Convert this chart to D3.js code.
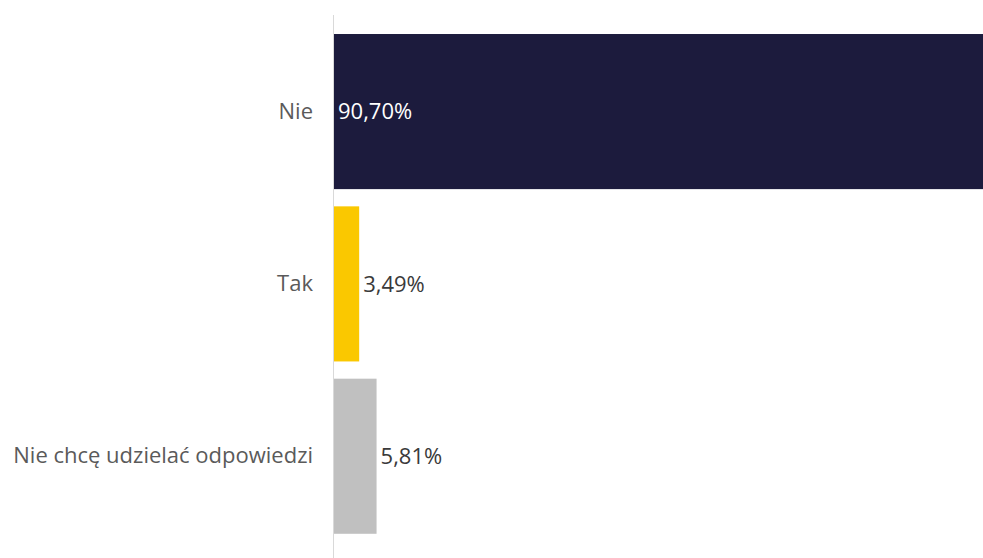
<!DOCTYPE html>
<html>
<head>
<meta charset="utf-8">
<script src="https://cdn.jsdelivr.net/npm/d3@7"></script>
<style>
  html, body { margin: 0; padding: 0; background: #fff; }
  svg { display: block; }
  text { font-family: "Open Sans", "Noto Sans", sans-serif; }
</style>
</head>
<body>
<svg id="chart" width="983" height="558"></svg>
<script>
// Survey answers and their shares (%)
const categories = ["Nie", "Tak", "Nie chcę udzielać odpowiedzi"];
const values = [90.70, 3.49, 5.81];
const valueLabels = ["90,70%", "3,49%", "5,81%"];
const colors = ["#1c1b3d", "#fac800", "#c0c0c0"];

const width = 983, height = 558;
const axisX = 333;
const fontSize = 22;

const svg = d3.select("#chart");

const x = d3.scaleLinear().domain([0, 100]).range([axisX, axisX + 750]);
const y = d3.scaleBand()
  .domain(categories)
  .range([25.4, 542.4])
  .paddingInner(0.1)
  .paddingOuter(0.05);

const data = categories.map((c, i) => ({ c, v: values[i], label: valueLabels[i], color: colors[i] }));

// bars
svg.append("g").selectAll("rect")
  .data(data)
  .join("rect")
  .attr("x", x(0))
  .attr("y", d => y(d.c))
  .attr("width", d => x(d.v) - x(0))
  .attr("height", y.bandwidth())
  .attr("fill", d => d.color);

// vertical baseline
svg.append("line")
  .attr("x1", axisX + 0.5).attr("x2", axisX + 0.5)
  .attr("y1", 15).attr("y2", height)
  .attr("stroke", "#d9d9d9")
  .attr("stroke-width", 1);

// category labels
const yAxis = d3.axisLeft(y).tickSize(0).tickPadding(20);
const gy = svg.append("g").attr("transform", `translate(${axisX},0)`).call(yAxis);
gy.select(".domain").remove();
gy.selectAll("text")
  .attr("font-family", "'Open Sans', sans-serif")
  .attr("font-size", fontSize)
  .attr("fill", "#5a5a5a");

// value labels: inside the bar when it is wide, otherwise just past its end
svg.append("g").selectAll("text")
  .data(data)
  .join("text")
  .attr("x", d => (x(d.v) - x(0) > 100 ? x(0) + 5 : x(d.v) + 4))
  .attr("y", d => y(d.c) + y.bandwidth() / 2)
  .attr("dy", "0.35em")
  .attr("font-size", fontSize)
  .attr("fill", d => (x(d.v) - x(0) > 100 ? "#ffffff" : "#3a3a3a"))
  .text(d => d.label);
</script>
</body>
</html>
